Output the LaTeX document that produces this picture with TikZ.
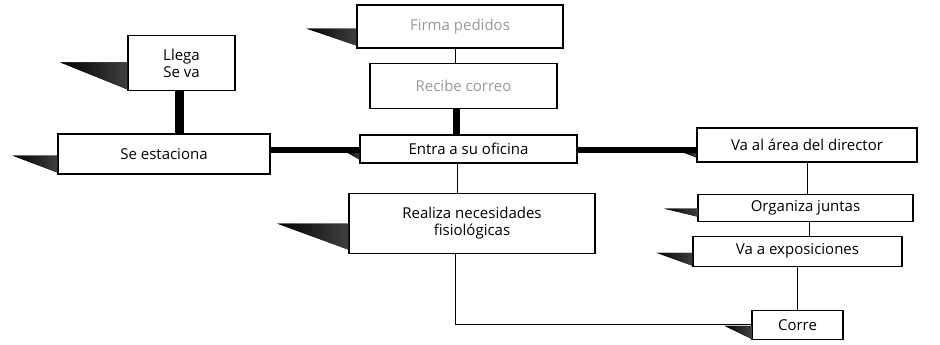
\documentclass[tikz,border=0pt]{standalone}
\usepackage{fontspec}
\setmainfont{Open Sans}
\usetikzlibrary{positioning,calc}

% dark wedge to the left of a box: node, length, top, bottom (above south west)
\newcommand{\shadowwedge}[4]{%
  \fill[wedgefill] ($(#1.south west)+(0,-#3)$) -- ++(-#2,0) -- ($(#1.south west)+(0,-#4)$) -- cycle;}

\begin{document}
\begin{tikzpicture}[x=1pt, y=-1pt,
  box/.style={draw, line width=1.1pt, fill=white, inner sep=1pt, align=center,
    font=\fontsize{15}{17.5}\selectfont},
  faint/.style={text=black!40},
  wedgefill/.style={left color=black, right color=black!75},
  heavy/.style={line width=7pt},
  thin/.style={line width=1pt}]
	\useasboundingbox (0,0) rectangle (940,345);
	\node[box, minimum width=212pt, minimum height=40pt] (estaciona) at (164,154) {Se estaciona};
	\node[box, minimum width=107pt, minimum height=55pt, above=42pt of estaciona, xshift=17.5pt] (llega) {Llega\\Se va};
	\node[box, faint, minimum width=206pt, minimum height=43pt] (envia) at (460,26.5) {Firma pedidos};
	\node[box, faint, minimum width=187pt, minimum height=45pt, below=14pt of envia, xshift=3.5pt] (recibe) {Recibe correo};
	\node[box, minimum width=217pt, minimum height=28pt] (entra) at (468.5,149) {Entra a su oficina};
	\node[box, minimum width=246pt, minimum height=60pt, below=29pt of entra, xshift=3.5pt] (realiza) {Realiza necesidades\\fisiológicas};
	\node[box, minimum width=220pt, minimum height=34pt] (area) at (807,145) {Va al área del director};
	\node[box, minimum width=215pt, minimum height=27pt, below=31pt of area, xshift=-1.5pt] (organiza) {Organiza juntas};
	\node[box, minimum width=209pt, minimum height=30pt, below=14pt of organiza, xshift=-8pt] (expo) {Va a exposiciones};
	\node[box, minimum width=91pt, minimum height=29pt, below=43pt of expo] (corre) {Corre};
	% wedges
	\shadowwedge{llega}{67}{29}{2}
	\shadowwedge{estaciona}{45}{19}{2}
	\shadowwedge{envia}{50}{20}{3}
	\shadowwedge{entra}{14}{12}{4}
	\shadowwedge{realiza}{71}{30}{4}
	\shadowwedge{area}{13}{10}{5}
	\shadowwedge{organiza}{33}{13}{5}
	\shadowwedge{expo}{36}{14}{1}
	\shadowwedge{corre}{27}{14}{1}
	% connectors
	\draw[heavy, line width=9pt] ([xshift=-2pt]llega.south) -- ([xshift=-2pt]llega.south |- estaciona.north);
	\draw[heavy, line width=6pt] ([yshift=4pt]estaciona.east) -- ([yshift=4pt]estaciona.east -| entra.west);
	\draw[heavy] ([xshift=-7pt]recibe.south) -- ([xshift=-7pt]recibe.south |- entra.north);
	\draw[heavy, line width=6pt] ([yshift=-1pt]entra.east) -- ([yshift=-1pt]entra.east -| area.west);
	\draw[thin] ([xshift=-5pt]envia.south) -- ([xshift=-5pt]envia.south |- recibe.north);
	\draw[thin] ([xshift=-11pt]entra.south) -- ([xshift=-11pt]entra.south |- realiza.north);
	\draw[thin] (area.south) -- (area.south |- organiza.north);
	\draw[thin] ([xshift=4pt]organiza.south) -- ([xshift=4pt]organiza.south |- expo.north);
	\draw[thin] (expo.south) -- (corre.north);
	\draw[thin] ([xshift=-17pt]realiza.south) |- (corre.west);
\end{tikzpicture}
\end{document}
